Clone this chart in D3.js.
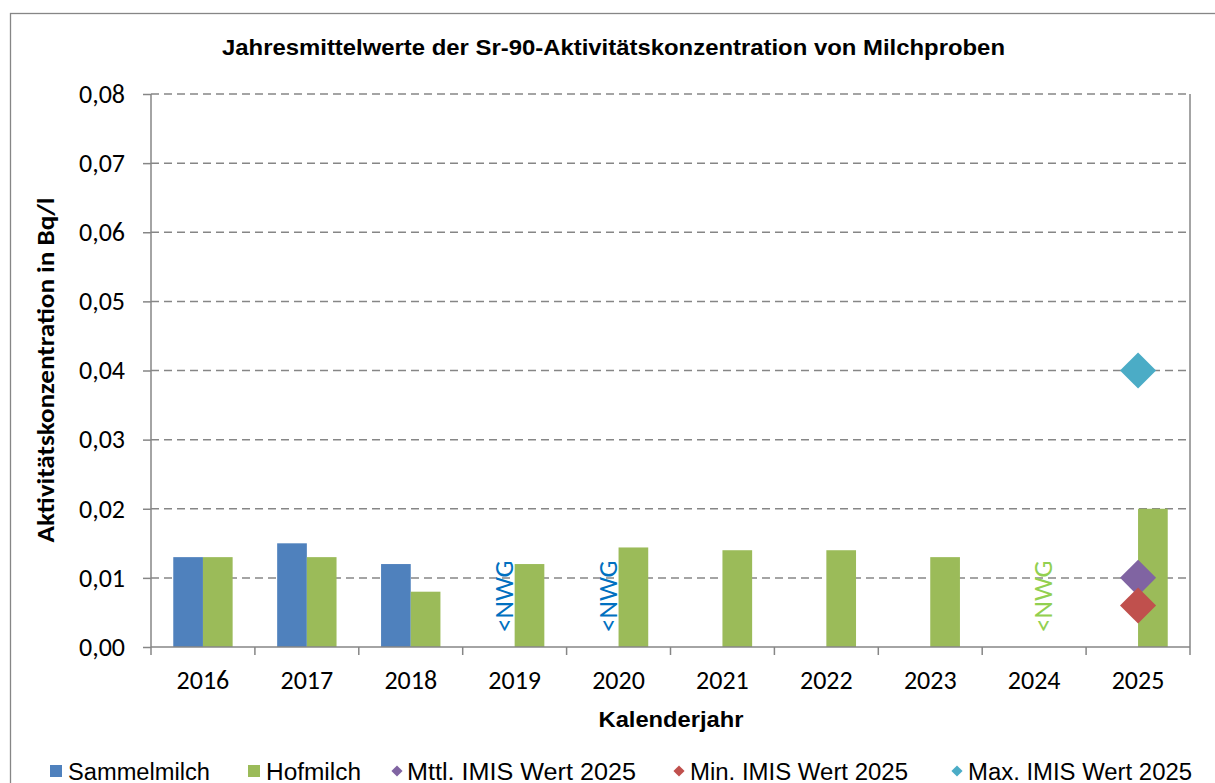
<!DOCTYPE html>
<html><head><meta charset="utf-8">
<script src="https://cdn.jsdelivr.net/npm/d3@7"></script>
<style>body{margin:0;background:#fff}svg{display:block}</style>
</head><body>
<svg id="c" width="1215" height="783"></svg>
<script>
const years = ["2016","2017","2018","2019","2020","2021","2022","2023","2024","2025"];
const sammelmilch = [0.013, 0.015, 0.012, null, null, null, null, null, null, null];
const hofmilch = [0.013, 0.013, 0.008, 0.012, 0.0144, 0.014, 0.014, 0.013, null, 0.02];
const imisYear = "2025";
const imisMittel = 0.010;
const imisMin = 0.006;
const imisMax = 0.040;
const nwgLabels = [{year:"2019", series:"Sammelmilch"},{year:"2020", series:"Sammelmilch"},{year:"2024", series:"Hofmilch"}];
const yTicks = [0, 0.01, 0.02, 0.03, 0.04, 0.05, 0.06, 0.07, 0.08];
const seriesNames = ["Sammelmilch","Hofmilch"];
const legendLabels = ["Sammelmilch","Hofmilch","Mttl. IMIS Wert 2025","Min. IMIS Wert 2025","Max. IMIS Wert 2025"];
const titleText = "Jahresmittelwerte der Sr-90-Aktivitätskonzentration von Milchproben";
const xTitle = "Kalenderjahr";
const yTitle = "Aktivitätskonzentration in Bq/l";

const colors = {Sammelmilch:"#4F81BD", Hofmilch:"#9BBB59", mittel:"#8064A2", min:"#C0504D", max:"#4BACC6"};
const nwgColors = {Sammelmilch:"#0070C0", Hofmilch:"#92D050"};
const axisColor = "#868686";
const calibri = "Carlito, Calibri, 'Open Sans', sans-serif";
const arial = "'Liberation Sans', Arial, sans-serif";

const svg = d3.select("#c");
const L = 151, R = 1190, T = 94, B = 647;

// outer border
svg.append("rect").attr("x",10.5).attr("y",13.5).attr("width",1400).attr("height",1000)
  .attr("fill","none").attr("stroke",axisColor).attr("stroke-width",1.3);

const x = d3.scaleBand().domain(years).range([L,R]).padding(0);
const x1 = d3.scaleBand().domain(seriesNames).range([0,x.bandwidth()]).paddingInner(0).paddingOuter(0.75);
const y = d3.scaleLinear().domain([0,0.08]).range([B,T]);
const loc = d3.formatLocale({decimal:",", thousands:".", grouping:[3], currency:["","€"]});
const fmt = loc.format(".2f");

// gridlines
svg.append("g").selectAll("line").data(yTicks.filter(d=>d>0)).join("line")
  .attr("x1",L).attr("x2",R).attr("y1",d=>y(d)).attr("y2",d=>y(d))
  .attr("stroke",axisColor).attr("stroke-width",1.5).attr("stroke-dasharray","8,5");
// right border
svg.append("line").attr("x1",R).attr("x2",R).attr("y1",T).attr("y2",B)
  .attr("stroke",axisColor).attr("stroke-width",1.5);

// bars
const barData = [];
years.forEach((yr,i)=>{
  if (sammelmilch[i]!=null) barData.push({yr, s:"Sammelmilch", v:sammelmilch[i]});
  if (hofmilch[i]!=null) barData.push({yr, s:"Hofmilch", v:hofmilch[i]});
});
svg.append("g").selectAll("rect").data(barData).join("rect")
  .attr("x",d=>x(d.yr)+x1(d.s)).attr("width",x1.bandwidth())
  .attr("y",d=>y(d.v)).attr("height",d=>B-y(d.v))
  .attr("fill",d=>colors[d.s]);

// NWG labels
svg.append("g").selectAll("text").data(nwgLabels).join("text")
  .attr("transform",d=>{
    const cx = x(d.year)+x.bandwidth()/2 + (d.series==="Sammelmilch"?-10:10);
    return `translate(${cx+8},${B-15}) rotate(-90)`;
  })
  .attr("font-family",calibri).attr("font-size",27)
  .attr("fill",d=>nwgColors[d.series]).text("<NWG");

// axes
const yAxis = svg.append("g").attr("transform",`translate(${L},0)`)
  .call(d3.axisLeft(y).tickValues(yTicks).tickFormat(fmt).tickSize(8).tickPadding(18));
const xAxis = svg.append("g").attr("transform",`translate(0,${B})`)
  .call(d3.axisBottom(x).tickSize(0).tickPadding(24));
[yAxis,xAxis].forEach(g=>{
  g.select(".domain").attr("stroke",axisColor).attr("stroke-width",1.5);
  g.selectAll(".tick line").attr("stroke",axisColor).attr("stroke-width",1.5);
  g.selectAll("text").attr("fill","#000").attr("font-family",calibri);
});
yAxis.select(".domain").attr("d",`M0,${B}V${T}`);
yAxis.selectAll("text").attr("font-size",26);
xAxis.select(".domain").attr("d",`M${L},0H${R}`);
xAxis.selectAll("text").attr("font-size",26);
// x tick marks at category boundaries
svg.append("g").selectAll("line").data(years.map(d=>x(d)).concat([R])).join("line")
  .attr("x1",d=>d).attr("x2",d=>d).attr("y1",B).attr("y2",B+8)
  .attr("stroke",axisColor).attr("stroke-width",1.5);

// IMIS diamonds
const diamond = d3.symbol().type(d3.symbolSquare).size(650);
const imis = [{v:imisMittel,c:colors.mittel},{v:imisMin,c:colors.min},{v:imisMax,c:colors.max}];
svg.append("g").selectAll("path").data(imis).join("path")
  .attr("d",diamond)
  .attr("transform",d=>`translate(${x(imisYear)+x.bandwidth()/2},${y(d.v)}) rotate(45)`)
  .attr("fill",d=>d.c);

// titles
svg.append("text").attr("x",613.5).attr("y",55).attr("text-anchor","middle")
  .attr("font-family",arial).attr("font-weight","bold").attr("font-size",22)
  .attr("textLength",783).attr("lengthAdjust","spacingAndGlyphs").text(titleText);
svg.append("text").attr("x",671).attr("y",726.5).attr("text-anchor","middle")
  .attr("font-family",arial).attr("font-weight","bold").attr("font-size",22)
  .attr("textLength",145).attr("lengthAdjust","spacingAndGlyphs").text(xTitle);
svg.append("text").attr("transform","translate(54,370) rotate(-90)").attr("text-anchor","middle")
  .attr("font-family",calibri).attr("font-weight","bold").attr("font-size",25)
  .attr("textLength",345).attr("lengthAdjust","spacingAndGlyphs").text(yTitle);

// legend
const legX = [50, 248, 392, 674, 952];
const legTextX = [68, 266, 407, 690, 968];
const legTextW = [142, 95, 229, 218, 224];
const legColors = [colors.Sammelmilch, colors.Hofmilch, colors.mittel, colors.min, colors.max];
const leg = svg.append("g");
legendLabels.forEach((lab,i)=>{
  if (i<2) {
    leg.append("rect").attr("x",legX[i]).attr("y",765).attr("width",12).attr("height",12).attr("fill",legColors[i]);
  } else {
    leg.append("path").attr("d",d3.symbol().type(d3.symbolSquare).size(62))
      .attr("transform",`translate(${legX[i]+5},771) rotate(45)`).attr("fill",legColors[i]);
  }
  leg.append("text").attr("x",legTextX[i]).attr("y",780)
    .attr("font-family",arial).attr("font-size",23)
    .attr("textLength",legTextW[i]).attr("lengthAdjust","spacingAndGlyphs").text(lab);
});
</script>
</body></html>
